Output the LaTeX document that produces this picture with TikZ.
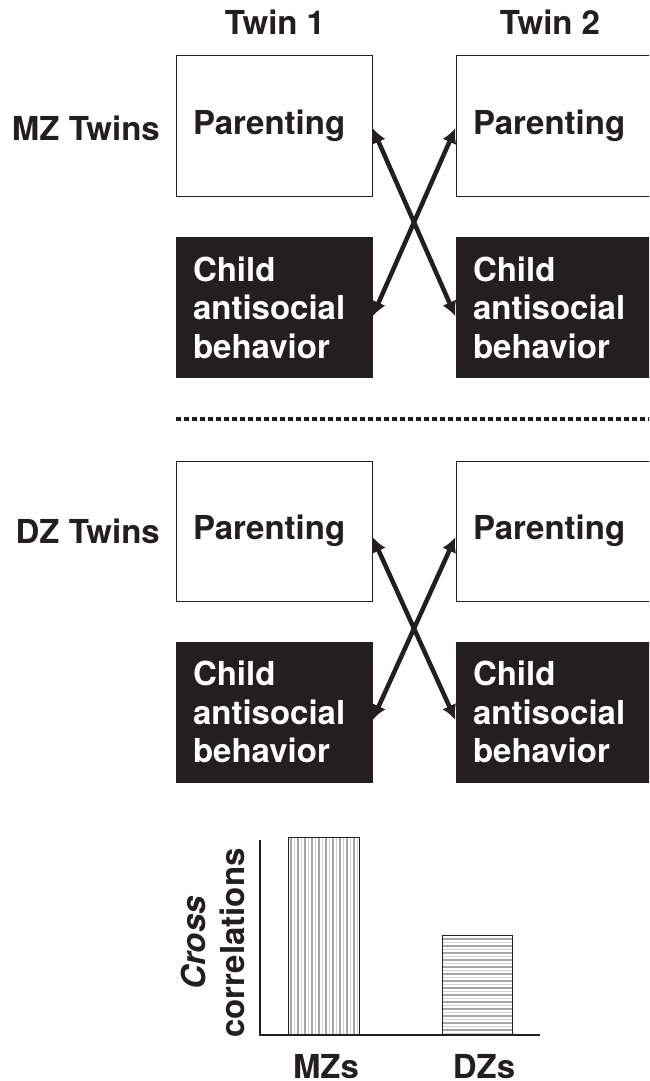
\documentclass[tikz,border=0pt]{standalone}
\usepackage{fontspec}
\setmainfont{TeX Gyre Heros}
\usetikzlibrary{arrows.meta}
\definecolor{ink}{HTML}{231F20}
\begin{document}
\begin{tikzpicture}[x=1pt,y=-1pt,
  every node/.style={font=\fontsize{33}{38.5}\selectfont\bfseries, text=ink},
  pbox/.style={draw=ink, line width=1pt, fill=white, minimum height=140pt,
     inner xsep=17pt, inner ysep=0pt, text width=162pt, align=left},
  cbox/.style={pbox, fill=ink, text=white},
  link/.style={draw=ink, line width=4.5pt,
     {Latex[length=15pt,width=15pt]}-{Latex[length=15pt,width=15pt]}},
  lbl/.style={inner sep=0pt}
]
\useasboundingbox (0,0) rectangle (649,1081);
\clip (0,0) rectangle (649,1081);
\fill[white] (0,0) rectangle (649,1081);

% headers
\node[lbl] (t1) at (275,22) {Twin 1};
\node[lbl] (t2) at (550,22) {Twin 2};

% MZ section
\node[lbl, anchor=east] (mz) at (160,128) {MZ Twins};
\node[pbox] (p1) at (274,126) {Parenting};
\node[pbox] (p2) at (554,126) {Parenting};
\node[cbox] (c1) at (274,307.5) {Child\\antisocial\\behavior};
\node[cbox] (c2) at (554,307.5) {Child\\antisocial\\behavior};
\draw[link] ([yshift=-2pt]p1.east) -- ([yshift=-9pt]c2.west);
\draw[link] ([yshift=-9pt]c1.east) -- ([yshift=-2pt]p2.west);

% divider
\coordinate (d1) at (176,419);
\coordinate (d2) at (660,419);
\draw[ink, line width=4pt, dash pattern=on 5pt off 3pt] (d1) -- (d2);

% DZ section
\node[lbl, anchor=east] (dz) at (160,531) {DZ Twins};
\node[pbox] (p3) at (274,531) {Parenting};
\node[pbox] (p4) at (554,531) {Parenting};
\node[cbox] (c3) at (274,712) {Child\\antisocial\\behavior};
\node[cbox] (c4) at (554,712) {Child\\antisocial\\behavior};
\draw[link] ([yshift=-6pt]p3.east) -- ([yshift=-8pt]c4.west);
\draw[link] ([yshift=-8pt]c3.east) -- ([yshift=-6pt]p4.west);

% bar chart
\foreach \k in {0,...,9} {
  \pgfmathsetmacro{\xx}{291+7*\k}
  \draw[gray!70, line width=1.3pt] (\xx,837) -- (\xx,1035);
  \draw[gray!35, line width=1.3pt] (\xx+3.5,837) -- (\xx+3.5,1035);
}
\draw[ink, line width=1pt] (288,1035) rectangle (359,837);
\foreach \k in {0,...,13} {
  \pgfmathsetmacro{\yy}{939+7*\k}
  \draw[gray!70, line width=1.3pt] (442,\yy) -- (512,\yy);
  \draw[gray!35, line width=1.3pt] (442,\yy+3.5) -- (512,\yy+3.5);
}
\draw[ink, line width=1pt] (442,1035) rectangle (512,935);
\draw[ink, line width=1.5pt] (260,840) -- (260,1035) -- (540,1035);

\node[lbl, rotate=90, align=center] (yl) at (213,943) {\textit{Cross}\\correlations};
\node[lbl] (mzs) at (326,1067) {MZs};
\node[lbl] (dzs) at (484,1067) {DZs};
\end{tikzpicture}
\end{document}
